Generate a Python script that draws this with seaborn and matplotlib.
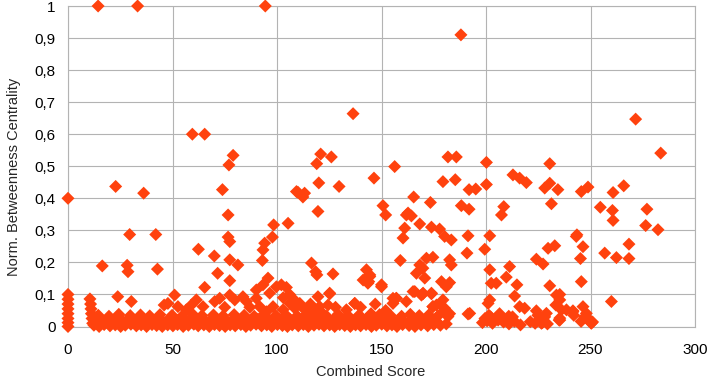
import matplotlib
matplotlib.use("Agg")
import matplotlib.pyplot as plt
import seaborn as sns
import pandas as pd
from matplotlib.ticker import FuncFormatter

# ---- data ----
x_top = [14.4, 33.3, 94.4, 188.0, 59.5, 65.4, 136.4, 271.6, 283.6, 0.0, 22.8, 36.2,
         79.0, 77.0, 73.9, 109.3, 112.4, 110.0, 113.2, 119.0, 120.9, 126.0, 120.0, 129.7,
         156.3, 146.4, 181.8, 185.8, 200.2, 230.5, 179.4, 185.3, 191.9, 195.1, 200.2,
         212.9, 216.1, 219.3, 228.1, 230.5, 234.4, 165.4, 245.6, 248.8, 260.8, 265.9]
y_top = [1.0, 1.0, 1.0, 0.91, 0.60, 0.60, 0.664, 0.647, 0.541, 0.40, 0.437, 0.416,
         0.534, 0.504, 0.427, 0.421, 0.404, 0.419, 0.416, 0.508, 0.538, 0.529, 0.448, 0.437,
         0.499, 0.463, 0.529, 0.529, 0.512, 0.508, 0.452, 0.458, 0.427, 0.429, 0.443,
         0.473, 0.463, 0.449, 0.432, 0.447, 0.427, 0.404, 0.421, 0.435, 0.418, 0.439]

x_mid = [29.5, 42.0, 16.4, 28.3, 28.7, 42.8, 76.6, 76.6, 77.4, 62.4, 70.0, 77.4, 81.3,
         71.6, 77.4, 65.4, 119.6, 150.7, 152.0, 161.9, 105.3, 98.4, 97.8, 94.1, 93.3, 93.0,
         161.1, 160.3, 159.0, 116.5, 118.5, 119.1, 126.8, 142.8, 144.4, 143.9, 150.0, 95.7,
         102.1, 104.5, 231.3, 173.4, 188.2, 191.9, 208.5, 207.4, 162.7, 164.3, 168.3, 173.9,
         177.8, 180.2, 183.4, 191.4, 201.8, 190.9, 199.4, 229.7, 232.9, 243.2, 224.1, 227.3,
         171.5, 174.6, 168.3, 169.8, 166.7, 170.7, 182.6, 183.4, 178.7, 182.6, 201.8, 202.5,
         204.9, 211.3, 209.7, 214.8, 230.5, 254.7, 260.5, 260.8, 277.0, 276.4, 282.3, 243.5,
         246.4, 245.2, 256.8, 262.4, 268.4, 268.4, 245.6, 144.4, 141.2]
y_mid = [0.287, 0.287, 0.189, 0.191, 0.171, 0.179, 0.348, 0.279, 0.265, 0.241, 0.22, 0.208, 0.192,
         0.166, 0.143, 0.122, 0.359, 0.377, 0.348, 0.348, 0.322, 0.317, 0.279, 0.26, 0.239, 0.206,
         0.307, 0.276, 0.206, 0.198, 0.171, 0.161, 0.164, 0.177, 0.161, 0.14, 0.124, 0.151,
         0.13, 0.122, 0.383, 0.387, 0.377, 0.366, 0.374, 0.348, 0.354, 0.345, 0.32, 0.31,
         0.304, 0.281, 0.27, 0.283, 0.283, 0.229, 0.241, 0.244, 0.252, 0.281, 0.21, 0.195,
         0.213, 0.216, 0.192, 0.182, 0.166, 0.151, 0.208, 0.192, 0.14, 0.137, 0.177, 0.135,
         0.135, 0.187, 0.154, 0.13, 0.127, 0.372, 0.362, 0.331, 0.366, 0.315, 0.302, 0.286,
         0.249, 0.212, 0.229, 0.215, 0.257, 0.212, 0.14, 0.156, 0.145]

x_low = [0.0, 0.0, 0.0, 0.0, 0.0, 0.0, 0.0, 0.0, 10.5, 10.8, 11.0, 11.2, 11.5, 11.8,
         23.8, 30.3, 46.0, 47.8, 51.0, 52.6, 56.6, 59.0, 61.4, 64.6, 70.2, 72.6, 75.0, 77.4,
         79.8, 83.7, 85.4, 87.0, 90.1, 90.1, 93.3, 96.5, 99.7, 91.7, 94.9, 98.1, 102.9, 106.1,
         108.5, 110.9, 113.3, 103.0, 106.0, 108.0, 119.6, 125.2, 124.4, 120.4, 133.2, 137.2,
         128.0, 140.0, 147.0, 143.5, 150.0, 157.1, 155.5, 161.9, 165.1, 169.9, 173.9, 176.3,
         179.4, 181.0, 165.9, 169.8, 173.9, 155.5, 125.2, 137.2, 157.1, 169.1, 174.6, 180.2,
         174.6, 180.0, 182.6, 201.8, 201.0, 213.7, 216.1, 218.5, 224.1, 238.5, 241.6, 228.9,
         233.7, 235.3, 260.0, 235.3, 233.4, 236.1, 241.6, 246.4, 248.0, 249.6, 250.4, 228.1,
         226.5, 235.3, 235.3, 192.2, 191.4, 181.8, 181.0, 116.0, 118.0, 122.0, 145.0, 152.0]
y_low = [0.0, 0.012, 0.025, 0.04, 0.055, 0.07, 0.085, 0.1, 0.086, 0.07, 0.055, 0.04, 0.025, 0.01,
         0.093, 0.078, 0.067, 0.072, 0.098, 0.062, 0.052, 0.067, 0.083, 0.062, 0.078, 0.088, 0.06, 0.098,
         0.083, 0.093, 0.078, 0.06, 0.088, 0.114, 0.13, 0.104, 0.124, 0.062, 0.046, 0.062, 0.052, 0.072,
         0.057, 0.072, 0.052, 0.09, 0.1, 0.085, 0.093, 0.104, 0.067, 0.062, 0.052, 0.072,
         0.06, 0.06, 0.07, 0.135, 0.13, 0.088, 0.072, 0.078, 0.109, 0.104, 0.104, 0.067,
         0.083, 0.124, 0.109, 0.102, 0.102, 0.088, 0.102, 0.072, 0.088, 0.098, 0.062, 0.057,
         0.062, 0.05, 0.04, 0.083, 0.072, 0.095, 0.062, 0.057, 0.049, 0.052, 0.046, 0.041,
         0.098, 0.083, 0.078, 0.1, 0.067, 0.052, 0.049, 0.062, 0.041, 0.02, 0.01, 0.03,
         0.01, 0.02, 0.026, 0.041, 0.039, 0.031, 0.008, 0.07, 0.045, 0.04, 0.04, 0.05]

x_base = [12.4, 14.9, 17.3, 20.1, 22.6, 25.2, 27.4, 30.1, 32.7, 35.0, 37.6, 40.2, 42.4, 45.1,
          47.7, 50.2, 52.4, 55.1, 57.6, 60.2, 62.3, 65.0, 67.6, 70.1, 72.5, 75.2, 77.6, 80.0,
          82.7, 85.1, 87.4, 90.0, 92.6, 95.1, 97.5, 100.2, 102.6, 105.0, 107.3, 110.2, 112.6,
          115.0, 117.7, 120.1, 122.5, 125.2, 127.6, 130.0, 132.4, 135.1, 137.6, 140.0, 142.6,
          145.2, 147.5, 150.1, 152.6, 155.0, 157.4, 160.1, 163.2, 166.0, 168.9, 172.1, 175.0,
          178.2, 198.3, 200.6, 203.1, 205.8, 208.4, 211.0, 213.6, 216.5, 221.2, 223.5, 227.0,
          229.4, 235.0, 245.5, 250.2, 251.0,
          13.6, 16.2, 18.8, 21.3, 23.9, 26.4, 29.1, 31.7, 34.2, 36.8, 39.4, 41.9, 44.6, 47.1,
          49.7, 52.3, 54.8, 57.4, 60.1, 62.6, 65.2, 67.7, 70.3, 72.9, 75.5, 78.1, 80.6, 83.2,
          85.8, 88.3, 90.9, 93.5, 96.1, 98.6, 101.2, 103.8, 106.4, 109.1, 111.6, 114.2, 116.8,
          119.3, 121.9, 124.5, 127.1, 129.6, 132.2, 134.8, 137.3, 139.9, 142.5, 145.1, 147.6,
          150.2, 152.8, 155.4, 158.0, 160.5, 164.2, 167.8, 171.3, 174.9, 199.5, 202.2, 204.6,
          207.0, 210.2, 212.7, 224.8, 242.0, 247.2,
          14.5, 19.6, 24.3, 29.8, 34.7, 39.1, 44.0, 49.8, 54.5, 59.7, 64.1, 69.6, 74.2, 79.5,
          84.3, 89.1, 93.9, 99.4, 104.2, 109.6, 114.1, 119.0, 123.8, 129.2, 134.0, 139.3,
          144.5, 149.1, 154.2, 159.6, 163.8, 168.1, 172.6, 177.0, 201.4, 206.5, 210.9]
y_base = [0.004, 0.0, 0.006, 0.002, 0.005, 0.0, 0.004, 0.007, 0.002, 0.005, 0.0, 0.006, 0.003, 0.0,
          0.005, 0.002, 0.006, 0.0, 0.004, 0.007, 0.002, 0.005, 0.0, 0.006, 0.003, 0.0, 0.005, 0.002,
          0.006, 0.0, 0.004, 0.007, 0.002, 0.005, 0.0, 0.006, 0.003, 0.0, 0.005, 0.002, 0.006,
          0.0, 0.004, 0.007, 0.002, 0.005, 0.0, 0.006, 0.003, 0.0, 0.005, 0.002, 0.006,
          0.0, 0.004, 0.007, 0.002, 0.005, 0.0, 0.006, 0.003, 0.0, 0.005, 0.002, 0.006,
          0.004, 0.012, 0.018, 0.01, 0.02, 0.014, 0.008, 0.016, 0.005, 0.015, 0.01, 0.012,
          0.008, 0.02, 0.016, 0.012, 0.014,
          0.02, 0.017, 0.022, 0.018, 0.021, 0.016, 0.023, 0.019, 0.02, 0.017, 0.022, 0.018, 0.021, 0.016,
          0.023, 0.019, 0.02, 0.017, 0.022, 0.018, 0.021, 0.016, 0.023, 0.019, 0.02, 0.017, 0.022, 0.018,
          0.021, 0.016, 0.023, 0.019, 0.02, 0.017, 0.022, 0.018, 0.021, 0.016, 0.023, 0.019, 0.02,
          0.017, 0.022, 0.018, 0.021, 0.016, 0.023, 0.019, 0.02, 0.017, 0.022, 0.018, 0.021,
          0.016, 0.023, 0.019, 0.02, 0.017, 0.022, 0.018, 0.021, 0.016, 0.025, 0.03, 0.022,
          0.028, 0.024, 0.03, 0.035, 0.035, 0.03,
          0.035, 0.032, 0.038, 0.034, 0.036, 0.033, 0.037, 0.035, 0.032, 0.038, 0.034, 0.036, 0.033, 0.037,
          0.035, 0.032, 0.038, 0.034, 0.036, 0.033, 0.037, 0.035, 0.032, 0.038, 0.034, 0.036,
          0.033, 0.037, 0.035, 0.032, 0.038, 0.034, 0.036, 0.033, 0.035, 0.04, 0.032]

x_ticks = [0, 50, 100, 150, 200, 250, 300]
y_ticks = [0, 0.1, 0.2, 0.3, 0.4, 0.5, 0.6, 0.7, 0.8, 0.9, 1.0]
x_label = "Combined Score"
y_label = "Norm. Betweenness Centrality"

df = pd.DataFrame({
    "x": x_top + x_mid + x_low + x_base,
    "y": y_top + y_mid + y_low + y_base,
})

sns.set_theme(style="white")
plt.rcParams["font.family"] = ["Liberation Sans", "DejaVu Sans"]

W, H = 709, 378
fig = plt.figure(figsize=(W / 100, H / 100), dpi=100)
ax = fig.add_axes([68 / W, (H - 326.5) / H, (695 - 68) / W, (326.5 - 6) / H])

sns.scatterplot(data=df, x="x", y="y", ax=ax, marker="D", s=44, color="#FF420E",
                linewidth=0, edgecolor="none", clip_on=False, zorder=3, legend=False)

ax.set_xlim(0, 300)
ax.set_ylim(0, 1)
ax.set_xticks(x_ticks)
ax.set_yticks(y_ticks)
ax.yaxis.set_major_formatter(FuncFormatter(lambda v, p: ("%g" % round(v, 1)).replace(".", ",")))
ax.grid(True, color="#b3b3b3", linewidth=0.8)
ax.set_axisbelow(True)
for s in ax.spines.values():
    s.set_color("#b3b3b3")
    s.set_linewidth(0.8)
ax.tick_params(axis="both", labelsize=11, colors="#b3b3b3", labelcolor="black", length=0)
ax.tick_params(axis="x", pad=12)
ax.tick_params(axis="y", pad=9)
ax.set_xlabel("")
ax.set_ylabel("")
fig.text(371 / W, 1 - 372 / H, x_label, ha="center", va="center", fontsize=10.5)
fig.text(14 / W, 1 - 177 / H, y_label, ha="center", va="center", rotation=90, fontsize=10.5)

fig.savefig("out.png", dpi=100)
